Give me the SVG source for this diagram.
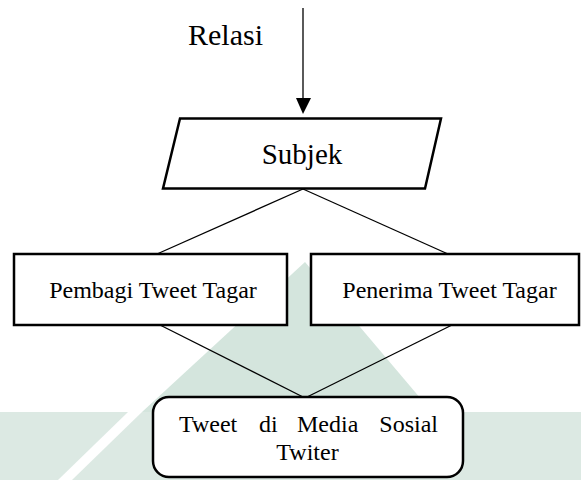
<svg xmlns="http://www.w3.org/2000/svg" width="581" height="480" viewBox="0 0 581 480">
  <style>
    .t { font-family: "Liberation Serif", "Times New Roman", serif; fill: #000; }
    .box { fill: #fff; stroke: #000; stroke-width: 2.5; }
    .conn { stroke: #000; stroke-width: 1.3; fill: none; }
  </style>
  <rect x="0" y="0" width="581" height="480" fill="#fff"/>
  <g id="watermark">
    <polygon points="305,262 432,412 142,412" fill="#d4e5dd"/>
    <rect x="0" y="412" width="581" height="68" fill="#dce9e3"/>
    <polygon points="128,412 142,412 72,480 58,480" fill="#fff"/>
  </g>
  <g id="connectors">
    <line class="conn" x1="303" y1="8" x2="303" y2="100" stroke-width="2"/>
    <polygon points="296,98 311,98 303,114" fill="#000"/>
    <line class="conn" x1="303" y1="189" x2="157" y2="254"/>
    <line class="conn" x1="303" y1="189" x2="448" y2="254"/>
    <line class="conn" x1="160" y1="325" x2="305" y2="398"/>
    <line class="conn" x1="452" y1="325" x2="305" y2="398"/>
  </g>
  <g id="relasi-label">
    <text class="t" x="188" y="45" font-size="30">Relasi</text>
  </g>
  <g id="subjek">
    <polygon class="box" points="180,118.5 441,118.5 425,188.5 163,188.5" stroke-width="2.2"/>
    <text class="t" x="302" y="164" font-size="29" text-anchor="middle">Subjek</text>
  </g>
  <g id="pembagi">
    <rect class="box" x="14" y="254" width="273" height="71"/>
    <text class="t" x="153" y="298" font-size="24" text-anchor="middle">Pembagi Tweet Tagar</text>
  </g>
  <g id="penerima">
    <rect class="box" x="311" y="254" width="268" height="71"/>
    <text class="t" x="449.5" y="298" font-size="24" text-anchor="middle">Penerima Tweet Tagar</text>
  </g>
  <g id="tweet">
    <rect class="box" x="153" y="397" width="310" height="80" rx="16" ry="16"/>
    <text class="t" y="432" font-size="24"><tspan x="179">Tweet</tspan><tspan x="259">di</tspan><tspan x="297">Media</tspan><tspan x="438" text-anchor="end">Sosial</tspan></text>
    <text class="t" x="307.5" y="460" font-size="24" text-anchor="middle">Twiter</text>
  </g>
</svg>
